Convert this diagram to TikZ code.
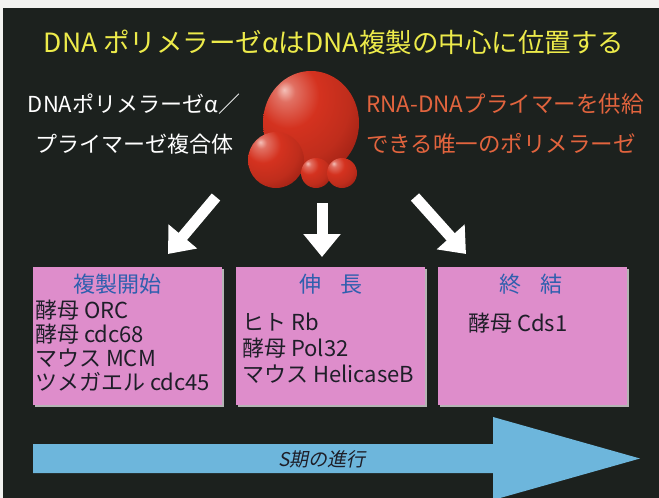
\documentclass[tikz,border=0pt]{standalone}
\usepackage{fontspec}
\setmainfont{Noto Sans CJK JP}
\newfontfamily\jpslant[FakeSlant=0.2]{Noto Sans CJK JP}
\usetikzlibrary{arrows.meta}

\definecolor{paper}{HTML}{F2F2F0}
\definecolor{panel}{HTML}{1C211E}
\definecolor{titleyellow}{HTML}{EDEB4A}
\definecolor{notered}{HTML}{E2643E}
\definecolor{boxpink}{HTML}{DE8DCB}
\definecolor{boxedge}{HTML}{B4B4B4}
\definecolor{headblue}{HTML}{2F5FAE}
\definecolor{flowblue}{HTML}{6DB6DC}
\definecolor{ballred}{HTML}{D4321F}
\definecolor{ballhl}{HTML}{F4C0B8}
\definecolor{balldark}{HTML}{8C1A10}
\definecolor{inktext}{HTML}{1E1E28}

% glossy red sphere, highlight towards the upper left, darker rim
\pgfdeclareradialshading{redball}{\pgfpoint{-14bp}{16bp}}{%
  color(0bp)=(ballhl); color(5bp)=(ballred!70!white);
  color(16bp)=(ballred); color(30bp)=(ballred!90!black);
  color(46bp)=(balldark); color(100bp)=(balldark)}

\tikzset{
  fs/.style={font=\fontsize{#1}{#1}\selectfont},
  stage/.style={fill=boxpink, minimum width=189, minimum height=138,
    inner sep=0, draw=none},
  stageshadow/.style={fill=boxedge, minimum width=189, minimum height=138,
    inner sep=0},
  stagehead/.style={text=headblue, fs=22, inner sep=0},
  stagebody/.style={text=inktext, align=left, anchor=west, inner sep=0},
  bigarrow/.style={draw=white, line width=11pt,
    -{Triangle[length=23pt,width=36pt]}},
  sphere/.style={shading=redball, draw=none},
}

\begin{document}
\begin{tikzpicture}[x=1pt,y=-1pt]
  % page and dark panel
  \fill[paper] (0,0) rectangle (659,498);
  \fill[panel] (3,8) rectangle (659,498);
  \useasboundingbox (0,0) rectangle (659,498);

  % headline
  \node[text=titleyellow, fs=26.5] (title) at (334,42)
    {DNA ポリメラーゼαはDNA複製の中心に位置する};

  % enzyme complex drawn as a cluster of spheres
  \path[sphere] (311,123) ellipse [x radius=48, y radius=52];
  \path[sphere] (276,160) circle [radius=28];
  \path[sphere] (316,173) circle [radius=15];
  \path[sphere] (342,173) circle [radius=15];

  % side labels
  \node[text=white, align=center,
    font=\fontsize{22}{40}\selectfont, inner sep=0]
    (leftlabel) at (134,124) {DNAポリメラーゼα／\\プライマーゼ複合体};
  \node[text=notered, align=left, anchor=west,
    font=\fontsize{22.5}{40}\selectfont, inner sep=0]
    (rightlabel) at (366,124)
    {RNA-DNAプライマーを供給\\できる唯一のポリメラーゼ};

  % three stages
  \node[stageshadow] at (129.5,337.5) {};
  \node[stage] (init) at (127.5,336) {};
  \node[stageshadow] at (332.5,337.5) {};
  \node[stage] (elong) at (330.5,336) {};
  \node[stageshadow] at (534.5,337.5) {};
  \node[stage] (term) at (532.5,336) {};

  \node[stagehead] (inithead) at (117,284) {複製開始};
  \node[stagehead] (elonghead) at (331,284) {伸\hspace{0.9em}長};
  \node[stagehead] (termhead) at (531,284) {終\hspace{0.9em}結};

  \node[stagebody, font=\fontsize{22}{24}\selectfont] (initbody) at (35,346)
    {酵母 ORC\\酵母 cdc68\\マウス MCM\\ツメガエル cdc45};
  \node[stagebody, font=\fontsize{22}{26}\selectfont] (elongbody) at (242,348)
    {ヒト Rb\\酵母 Pol32\\マウス HelicaseB};
  \node[stagebody, fs=22] (termbody) at (468,323) {酵母 Cds1};

  % arrows from the enzyme to each stage
  \coordinate (a1s) at (216,197);
  \coordinate (a1e) at (168,254);
  \coordinate (a2s) at (322,203);
  \coordinate (a2e) at (322,257);
  \coordinate (a3s) at (415,197);
  \coordinate (a3e) at (466,254);
  \draw[bigarrow] (a1s) -- (a1e);
  \draw[bigarrow] (a2s) -- (a2e);
  \draw[bigarrow] (a3s) -- (a3e);

  % S-phase progression arrow
  \fill[flowblue] (33,444) -- (493,444) -- (493,417) -- (640,458.5)
    -- (493,500) -- (493,473) -- (33,473) -- cycle;
  \node[text=inktext, font=\jpslant\fontsize{19}{19}\selectfont, inner sep=0]
    (sphase) at (322,459) {S期の進行};
\end{tikzpicture}
\end{document}
